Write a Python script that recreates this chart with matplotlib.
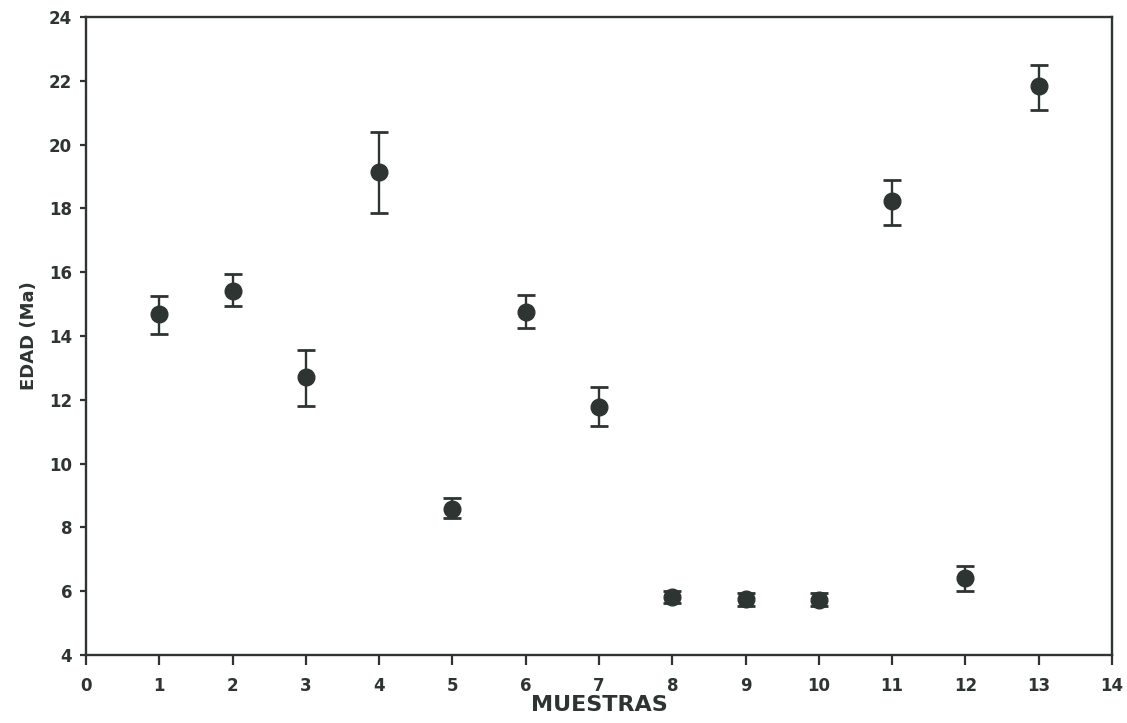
import matplotlib.pyplot as plt
import numpy as np

muestras = [1, 2, 3, 4, 5, 6, 7, 8, 9, 10, 11, 12, 13]
edad = [14.68, 15.41, 12.70, 19.13, 8.58, 14.74, 11.79, 5.82, 5.76, 5.72, 18.22, 6.41, 21.83]
edad_min = [14.06, 14.94, 11.82, 17.85, 8.29, 14.24, 11.17, 5.64, 5.55, 5.55, 17.47, 6.00, 21.07]
edad_max = [15.25, 15.93, 13.56, 20.38, 8.92, 15.28, 12.40, 6.00, 5.96, 5.94, 18.88, 6.80, 22.48]

x_ticks = list(range(0, 15))
y_ticks = list(range(4, 25, 2))

color = '#2e3432'
err_low = np.array(edad) - np.array(edad_min)
err_high = np.array(edad_max) - np.array(edad)

fig = plt.figure(figsize=(11.27, 7.23), dpi=100)
ax = fig.add_axes([0.0763, 0.094, 0.9104, 0.8825])

ax.errorbar(muestras, edad, yerr=[err_low, err_high], fmt='o', color=color,
            markersize=12, elinewidth=1.7, capsize=6.5, capthick=2)

ax.set_xlim(0, 14)
ax.set_ylim(4, 24)
ax.set_xticks(x_ticks)
ax.set_yticks(y_ticks)
ax.set_xticklabels([str(t) for t in x_ticks], fontsize=12, fontweight='bold', color=color)
ax.set_yticklabels([str(t) for t in y_ticks], fontsize=12, fontweight='bold', color=color)
ax.tick_params(axis='x', direction='out', length=7, width=1.6, color=color, pad=9)
ax.tick_params(axis='y', direction='out', length=4, width=1.6, color=color, pad=6)
for s in ax.spines.values():
    s.set_linewidth(1.7)
    s.set_color(color)

ax.set_xlabel('MUESTRAS', fontsize=16, fontweight='bold', color=color, labelpad=0)
ax.set_ylabel('EDAD (Ma)', fontsize=13, fontweight='bold', color=color, labelpad=8)

fig.savefig('out.png', dpi=100)
